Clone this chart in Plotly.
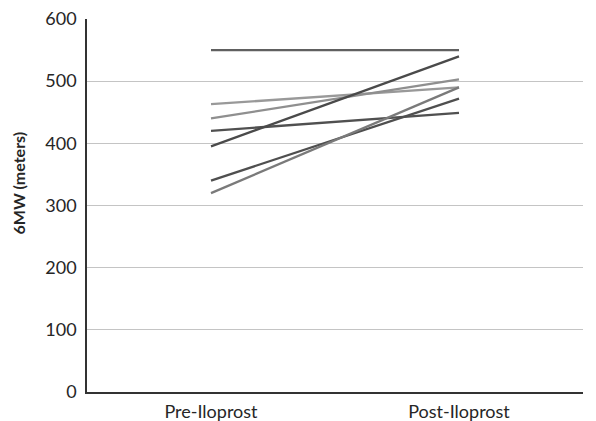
import plotly.graph_objects as go

categories = ["Pre-Iloprost", "Post-Iloprost"]
pre_values = [550, 463, 440, 420, 395, 340, 320]
post_values = [550, 490, 503, 449, 540, 472, 490]
line_colors = ["#606060", "#999999", "#8f8f8f", "#505050", "#4a4a4a", "#4f4f4f", "#7a7a7a"]
y_ticks = [0, 100, 200, 300, 400, 500, 600]
y_title = "6MW (meters)"

fig = go.Figure()
for pre, post, col in zip(pre_values, post_values, line_colors):
    fig.add_trace(go.Scatter(x=categories, y=[pre, post], mode="lines",
                             line=dict(color=col, width=2.3), showlegend=False,
                             hoverinfo="skip"))

fig.update_layout(
    width=596, height=421,
    margin=dict(l=87, r=13, t=19, b=29),
    paper_bgcolor="white", plot_bgcolor="white",
    font=dict(family="Lato, Open Sans, sans-serif", size=18, color="#262626"),
    xaxis=dict(type="category", range=[-0.5, 1.5], showgrid=False, automargin=False,
               showline=True, linecolor="#333333", linewidth=1.5,
               ticks="", tickfont=dict(size=18), ticklabelstandoff=3),
    yaxis=dict(range=[0, 600], tickvals=y_ticks, showgrid=True, automargin=False,
               gridcolor="#c4c4c4", gridwidth=1.2, zeroline=False,
               showline=True, linecolor="#333333", linewidth=1.5,
               ticks="", ticklen=0, tickfont=dict(size=18), ticklabelstandoff=5),
    annotations=[dict(text="<b>" + y_title + "</b>", xref="paper", yref="paper",
                      x=(18 - 87) / 496, y=0.559, xanchor="center", yanchor="middle",
                      textangle=-90, showarrow=False,
                      font=dict(size=16, color="#262626"))],
)

fig.write_html("out.html", config={"displayModeBar": False},
               post_script="document.body.style.margin='0';document.body.style.overflow='hidden';")
